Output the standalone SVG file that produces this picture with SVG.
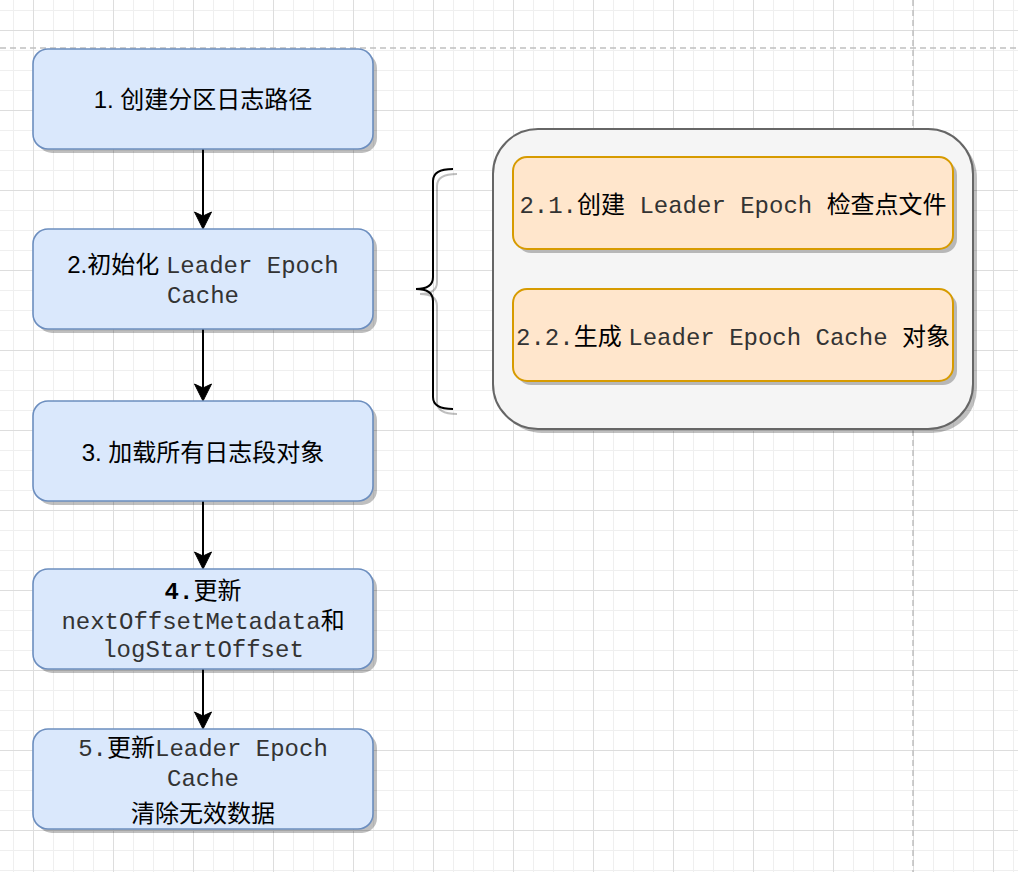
<svg xmlns="http://www.w3.org/2000/svg" width="1018" height="872" viewBox="0 0 1018 872">
<style>
.node{fill:#dae8fc;stroke:#6c8ebf;stroke-width:1.6}
.sub{fill:#ffe6cc;stroke:#d79b00;stroke-width:2}
.shadow{fill:#000;fill-opacity:0.25}
.t{font-size:24px;fill:#000;text-anchor:middle}
.s{font-family:"Liberation Sans","Noto Sans CJK SC",sans-serif}
.c{font-family:"Noto Sans CJK SC",sans-serif}
.m{font-family:"Liberation Mono","Noto Sans CJK SC",monospace;fill:#333}
.edge{stroke:#000;stroke-width:2;fill:none}
.head{fill:#000;stroke:#000;stroke-width:1}
.page{stroke:#c0c0c0;stroke-width:1.5;stroke-dasharray:6 4;fill:none}
</style>
<defs>
<pattern id="minor" patternUnits="userSpaceOnUse" x="13" y="10" width="20" height="20">
<path d="M0.5,0 V20 M0,0.5 H20" stroke="#efefef" stroke-width="1" fill="none"/>
</pattern>
<pattern id="major" patternUnits="userSpaceOnUse" x="33" y="30" width="80" height="80">
<path d="M0.5,0 V80 M0,0.5 H80" stroke="#dddddd" stroke-width="1" fill="none"/>
</pattern>
</defs>
<rect width="1018" height="872" fill="#ffffff"/>
<rect width="1018" height="872" fill="url(#minor)"/>
<rect width="1018" height="872" fill="url(#major)"/>
<line class="page" x1="0" y1="48" x2="1018" y2="48"/>
<line class="page" x1="913" y1="0" x2="913" y2="872"/>

<g id="connectors">
<line class="edge" x1="203" y1="149" x2="203" y2="216"/>
<path class="head" d="M203,229 L194.5,212 L203,216 L211.5,212 Z"/>
<line class="edge" x1="203" y1="329" x2="203" y2="388"/>
<path class="head" d="M203,401 L194.5,384 L203,388 L211.5,384 Z"/>
<line class="edge" x1="203" y1="501" x2="203" y2="556"/>
<path class="head" d="M203,569 L194.5,552 L203,556 L211.5,552 Z"/>
<line class="edge" x1="203" y1="669" x2="203" y2="716"/>
<path class="head" d="M203,729 L194.5,712 L203,716 L211.5,712 Z"/>
</g>

<g id="node1">
<rect class="shadow" x="37" y="53" width="340" height="100" rx="15"/>
<rect class="node" x="33" y="49" width="340" height="100" rx="15"/>
<text class="t" x="203" y="107.5"><tspan class="s">1. </tspan><tspan class="c">创建分区日志路径</tspan></text>
</g>

<g id="node2">
<rect class="shadow" x="37" y="233" width="340" height="100" rx="15"/>
<rect class="node" x="33" y="229" width="340" height="100" rx="15"/>
<text class="t" x="203" y="272.5"><tspan class="s">2.</tspan><tspan class="c">初始化</tspan><tspan class="s"> </tspan><tspan class="m">Leader Epoch</tspan></text>
<text class="t m" x="203" y="302.5">Cache</text>
</g>

<g id="node3">
<rect class="shadow" x="37" y="405" width="340" height="100" rx="15"/>
<rect class="node" x="33" y="401" width="340" height="100" rx="15"/>
<text class="t" x="203" y="461"><tspan class="s">3. </tspan><tspan class="c">加载所有日志段对象</tspan></text>
</g>

<g id="node4">
<rect class="shadow" x="37" y="573" width="340" height="100" rx="15"/>
<rect class="node" x="33" y="569" width="340" height="100" rx="15"/>
<text class="t" x="203" y="599"><tspan class="m" style="font-weight:bold;fill:#000">4.</tspan><tspan class="c">更新</tspan></text>
<text class="t" x="203" y="628.5"><tspan class="m">nextOffsetMetadata</tspan><tspan class="c">和</tspan></text>
<text class="t m" x="203" y="657">logStartOffset</text>
</g>

<g id="node5">
<rect class="shadow" x="37" y="733" width="340" height="100" rx="15"/>
<rect class="node" x="33" y="729" width="340" height="100" rx="15"/>
<text class="t" x="203" y="756"><tspan class="m">5.</tspan><tspan class="c">更新</tspan><tspan class="m">Leader Epoch</tspan></text>
<text class="t m" x="203" y="785.5">Cache</text>
<text class="t c" x="203" y="821.5">清除无效数据</text>
</g>

<g id="brace">
<path d="M457,174 Q437,174 437,186 L437,282 Q437,294 420,294 Q437,294 437,306 L437,402 Q437,414 457,414" fill="none" stroke="#000" stroke-opacity="0.25" stroke-width="2"/>
<path d="M453,169 Q433,169 433,181 L433,277 Q433,289 416,289 Q433,289 433,301 L433,397 Q433,409 453,409" fill="none" stroke="#000" stroke-width="2"/>
</g>

<g id="container">
<rect class="shadow" x="497" y="133" width="480" height="300" rx="45"/>
<rect x="493" y="129" width="480" height="300" rx="45" fill="#f5f5f5" stroke="#666666" stroke-width="2"/>
</g>

<g id="node2_1">
<rect class="shadow" x="517" y="161" width="440" height="92" rx="14"/>
<rect class="sub" x="513" y="157" width="440" height="92" rx="14"/>
<text class="t" x="733" y="212.5"><tspan class="m">2.1.</tspan><tspan class="c">创建</tspan><tspan class="m"> Leader Epoch </tspan><tspan class="c">检查点文件</tspan></text>
</g>

<g id="node2_2">
<rect class="shadow" x="517" y="293" width="440" height="92" rx="14"/>
<rect class="sub" x="513" y="289" width="440" height="92" rx="14"/>
<text class="t" x="733" y="344.5"><tspan class="m">2.2.</tspan><tspan class="c">生成</tspan><tspan class="s"> </tspan><tspan class="m">Leader Epoch Cache </tspan><tspan class="c">对象</tspan></text>
</g>
</svg>
